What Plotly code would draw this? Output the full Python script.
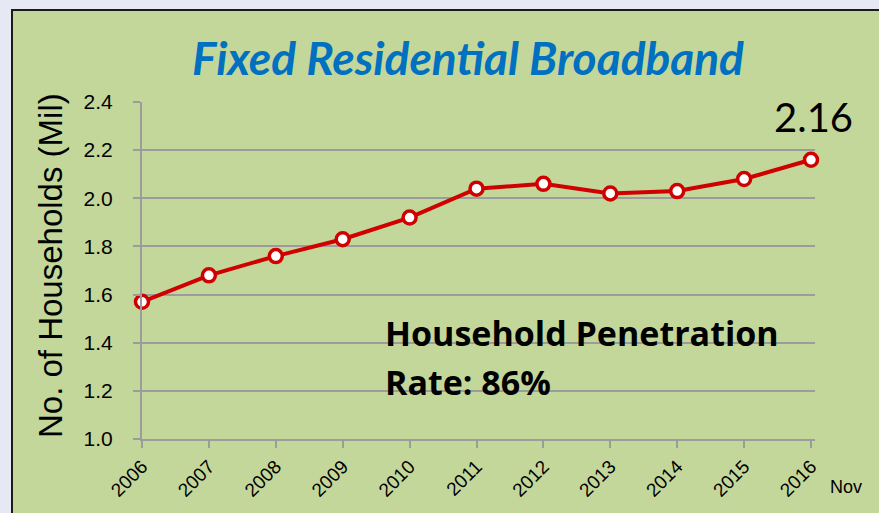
import plotly.graph_objects as go

# ---- data ----
years = [2006, 2007, 2008, 2009, 2010, 2011, 2012, 2013, 2014, 2015, 2016]
year_labels = ["2006", "2007", "2008", "2009", "2010", "2011", "2012", "2013", "2014", "2015", "2016"]
households_mil = [1.57, 1.68, 1.76, 1.83, 1.92, 2.04, 2.06, 2.02, 2.03, 2.08, 2.16]
y_ticks = [1.0, 1.2, 1.4, 1.6, 1.8, 2.0, 2.2, 2.4]

W, H = 879, 513
L, R, T, B = 142, 64, 102, 70
PW, PH = W - L - R, H - T - B

def px(x):
    return (x - L) / PW

def py(y):
    return (H - B - y) / PH

GREEN = "#c4d79b"
GRID = "#9c9c9c"
RED = "#d00000"
FRAME = "#e6e9f3"

fig = go.Figure()
fig.add_trace(go.Scatter(
    x=years, y=households_mil, mode="lines+markers",
    line=dict(color=RED, width=4),
    marker=dict(size=13, color="white", line=dict(color=RED, width=3.5)),
    cliponaxis=False,
    hoverinfo="x+y", showlegend=False,
))

fig.update_layout(
    width=W, height=H,
    margin=dict(l=L, r=R, t=T, b=B),
    paper_bgcolor=FRAME,
    plot_bgcolor="rgba(0,0,0,0)",
    font=dict(family="Liberation Sans, Arial", color="black"),
    xaxis=dict(
        range=[2006, 2016 + 4 / 66.9],
        tickvals=years, ticktext=year_labels,
        tickangle=-45,
        tickfont=dict(size=19, family="Liberation Sans Narrow, Liberation Sans"),
        showgrid=False, zeroline=False,
        showline=True, linecolor=GRID, linewidth=2,
        ticks="outside", ticklen=7, tickcolor=GRID, tickwidth=2,
    ),
    yaxis=dict(
        range=[1.0, 2.4],
        tickvals=y_ticks, tickformat=".1f",
        tickfont=dict(size=21, family="Liberation Sans Narrow, Liberation Sans"),
        showgrid=True, gridcolor=GRID, gridwidth=2,
        zeroline=False,
        showline=True, linecolor=GRID, linewidth=2,
        ticks="outside", ticklen=7, tickcolor=GRID, tickwidth=2,
        ticklabelstandoff=16,
    ),
)

# panel background with border
fig.add_shape(type="rect", xref="paper", yref="paper",
              x0=px(12), x1=px(W + 20), y0=py(H + 20), y1=py(9),
              fillcolor=GREEN, line=dict(color="#1a1a1a", width=2), layer="below")

fig.add_annotation(text="<b><i>Fixed Residential Broadband</i></b>",
                   x=px(468), y=py(57), xref="paper", yref="paper",
                   showarrow=False, font=dict(size=46, color="#0070c0", family="Lato, Open Sans"),
                   xanchor="center", yanchor="middle")

fig.add_annotation(text="No. of Households (Mil)", textangle=-90,
                   x=px(50), y=py(268), xref="paper", yref="paper",
                   showarrow=False, font=dict(size=33, family="Liberation Sans, Arial"),
                   xanchor="center", yanchor="middle")

fig.add_annotation(text=f"{households_mil[-1]:.2f}",
                   x=px(813), y=py(117), xref="paper", yref="paper",
                   showarrow=False, font=dict(size=40, family="Lato, Open Sans"),
                   xanchor="center", yanchor="middle")

fig.add_annotation(text="<b>Household Penetration</b>",
                   x=px(383), y=py(336), xref="paper", yref="paper",
                   showarrow=False, font=dict(size=34, family="Open Sans, Lato"),
                   xanchor="left", yanchor="middle")
fig.add_annotation(text="<b>Rate: 86%</b>",
                   x=px(383), y=py(385), xref="paper", yref="paper",
                   showarrow=False, font=dict(size=34, family="Open Sans, Lato"),
                   xanchor="left", yanchor="middle")

fig.add_annotation(text="Nov",
                   x=px(846), y=py(492), xref="paper", yref="paper",
                   showarrow=False, font=dict(size=18, family="Liberation Sans Narrow, Liberation Sans"),
                   xanchor="center", yanchor="middle")

fig.write_html(
    "out.html",
    config={"displayModeBar": False},
    post_script=f"document.body.style.margin='0';document.body.style.background='{FRAME}';",
)
